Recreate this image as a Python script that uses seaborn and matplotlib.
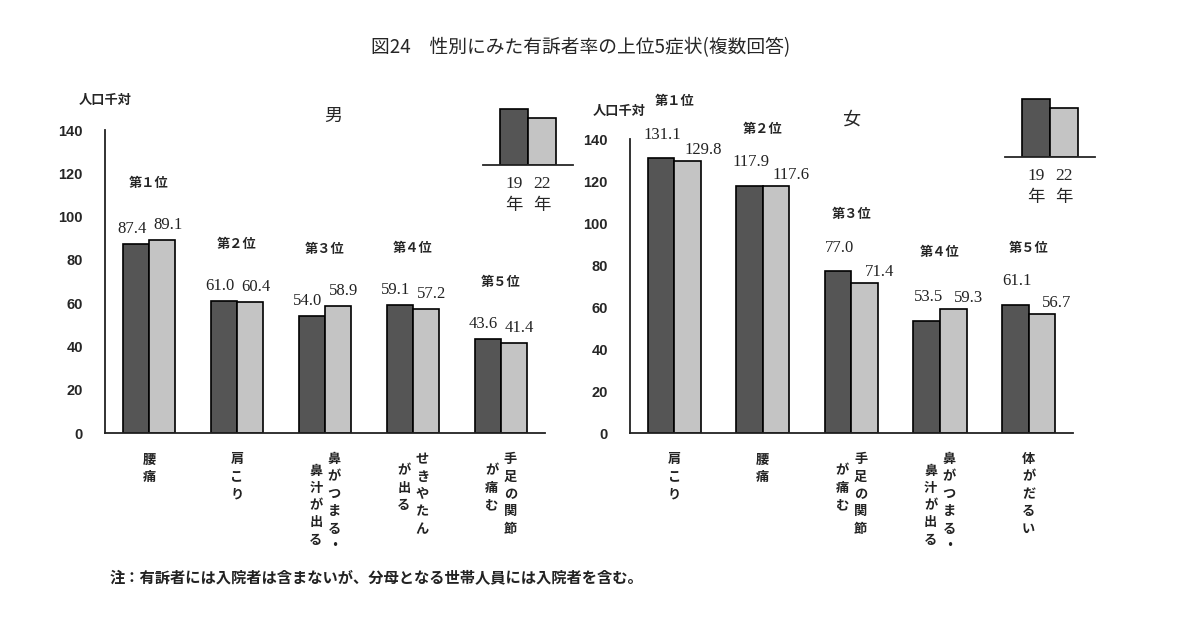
import matplotlib
matplotlib.use('Agg')
import matplotlib.pyplot as plt
import numpy as np
import pandas as pd
import seaborn as sns

sns.set_style('white')
plt.rcParams['font.family'] = ['Noto Sans CJK JP', 'DejaVu Sans']

# data
years = ['19年', '22年']
male_symptoms = ['腰痛', '肩こり', '鼻づまり', 'せきやたん', '手足の関節']
male_19 = [87.4, 61.0, 54.0, 59.1, 43.6]
male_22 = [89.1, 60.4, 58.9, 57.2, 41.4]
male_labels = [['腰痛'], ['肩こり'], ['鼻がつまる・', '鼻汁が出る'],
               ['せきやたん', 'が出る'], ['手足の関節', 'が痛む']]

female_symptoms = ['肩こり', '腰痛', '手足の関節', '鼻づまり', '体がだるい']
female_19 = [131.1, 117.9, 77.0, 53.5, 61.1]
female_22 = [129.8, 117.6, 71.4, 59.3, 56.7]
female_labels = [['肩こり'], ['腰痛'], ['手足の関節', 'が痛む'],
                 ['鼻がつまる・', '鼻汁が出る'], ['体がだるい']]

ranks = ['第１位', '第２位', '第３位', '第４位', '第５位']
legend_heights = [1.0, 0.85]
legend_ticks = ['19\n年', '22\n年']

dark = '#555555'
light = '#c4c4c4'
num_font = ['Liberation Serif', 'Noto Sans CJK JP']


def make_df(symptoms, v19, v22):
    return pd.DataFrame({
        'symptom': symptoms * 2,
        'year': [years[0]] * 5 + [years[1]] * 5,
        'rate': v19 + v22,
    })


def draw_panel(ax, df, v19, v22, labels, offsets):
    sns.barplot(data=df, x='symptom', y='rate', hue='year', hue_order=years,
                palette=[dark, light], width=0.6, edgecolor='black',
                linewidth=1.2, errorbar=None, legend=False, ax=ax)
    ax.set_xlim(-0.5, 4.5)
    ax.set_ylim(0, 140)
    ax.set_yticks(np.arange(0, 141, 20))
    ax.set_xlabel('')
    ax.set_ylabel('')
    sns.despine(ax=ax)
    for s in ['left', 'bottom']:
        ax.spines[s].set_linewidth(1.3)
        ax.spines[s].set_color('#222222')
    ax.set_xticks(np.arange(-0.5, 4.6, 1), minor=True)
    ax.tick_params(axis='x', which='major', length=0, labelbottom=False)
    ax.tick_params(axis='x', which='minor', direction='in', length=4, width=1.2)
    ax.tick_params(axis='y', direction='in', length=4, width=1.2, pad=16)
    for t in ax.get_yticklabels():
        t.set_family(['Liberation Sans', 'DejaVu Sans'])
        t.set_fontweight('bold')
        t.set_fontsize(10.5)
    for cont, off in zip(ax.containers, offsets):
        anns = ax.bar_label(cont, fmt='%.1f', padding=5, fontsize=12,
                            family=num_font, color='#222222')
        for a in anns:
            a.xyann = off
    tops = np.maximum(v19, v22)
    for i, (r, top) in enumerate(zip(ranks, tops)):
        ax.annotate(r, xy=(i, top), xytext=(0, 36), textcoords='offset points',
                    ha='center', va='bottom', fontsize=9.5, fontweight='bold')
    # vertical category labels, columns read right to left
    trans = ax.get_xaxis_transform()
    for i, cols in enumerate(labels):
        n = len(cols)
        for j, col in enumerate(cols):
            dx = (n - 1) * 0.105 - j * 0.21
            ax.annotate('\n'.join(col), xy=(i + dx, 0), xycoords=trans,
                        xytext=(0, -14 - 8 * j), textcoords='offset points',
                        ha='center', va='top', fontsize=9.5, fontweight='bold',
                        linespacing=1.3, color='#222222')


def draw_legend(rect):
    lax = fig.add_axes(rect)
    sns.barplot(x=legend_ticks, y=legend_heights, hue=legend_ticks,
                palette=[dark, light], width=1.0, edgecolor='black',
                linewidth=1.2, legend=False, ax=lax)
    lax.set_xlim(-1.1, 2.1)
    lax.set_ylim(0, 1.02)
    lax.set_yticks([])
    for s in ['left', 'right', 'top']:
        lax.spines[s].set_visible(False)
    lax.spines['bottom'].set_linewidth(1.3)
    lax.tick_params(axis='x', length=0, pad=8)
    for t in lax.get_xticklabels():
        t.set_family(num_font)
        t.set_fontsize(12.5)
        t.set_linespacing(1.45)


fig = plt.figure(figsize=(12, 6.2), dpi=100)

axL = fig.add_axes([0.0875, 0.3016, 0.3667, 0.4887])
draw_panel(axL, make_df(male_symptoms, male_19, male_22), male_19, male_22,
           male_labels, [(-3, 5), (4, 5)])
axR = fig.add_axes([0.525, 0.3016, 0.369, 0.474])
draw_panel(axR, make_df(female_symptoms, female_19, female_22), female_19, female_22,
           female_labels, [(1, 11), (11, 2)])

draw_legend([483 / 1200, 1 - 165 / 620, 90 / 1200, 57 / 620])
draw_legend([1005 / 1200, 1 - 157 / 620, 90 / 1200, 59 / 620])

fig.text(581 / 1200, 1 - 48 / 620, '図24　性別にみた有訴者率の上位5症状(複数回答)',
         ha='center', va='center', fontsize=13.5)
fig.text(105 / 1200, 1 - 100 / 620, '人口千対', ha='center', va='center',
         fontsize=9.5, fontweight='bold')
fig.text(619 / 1200, 1 - 111 / 620, '人口千対', ha='center', va='center',
         fontsize=9.5, fontweight='bold')
fig.text(333 / 1200, 1 - 116 / 620, '男', ha='center', va='center', fontsize=13)
fig.text(851 / 1200, 1 - 120 / 620, '女', ha='center', va='center', fontsize=13)
fig.text(110 / 1200, 1 - 578 / 620,
         '注：有訴者には入院者は含まないが、分母となる世帯人員には入院者を含む。',
         ha='left', va='center', fontsize=11, fontweight='bold', color='#222222')

fig.savefig('out.png', dpi=100)
